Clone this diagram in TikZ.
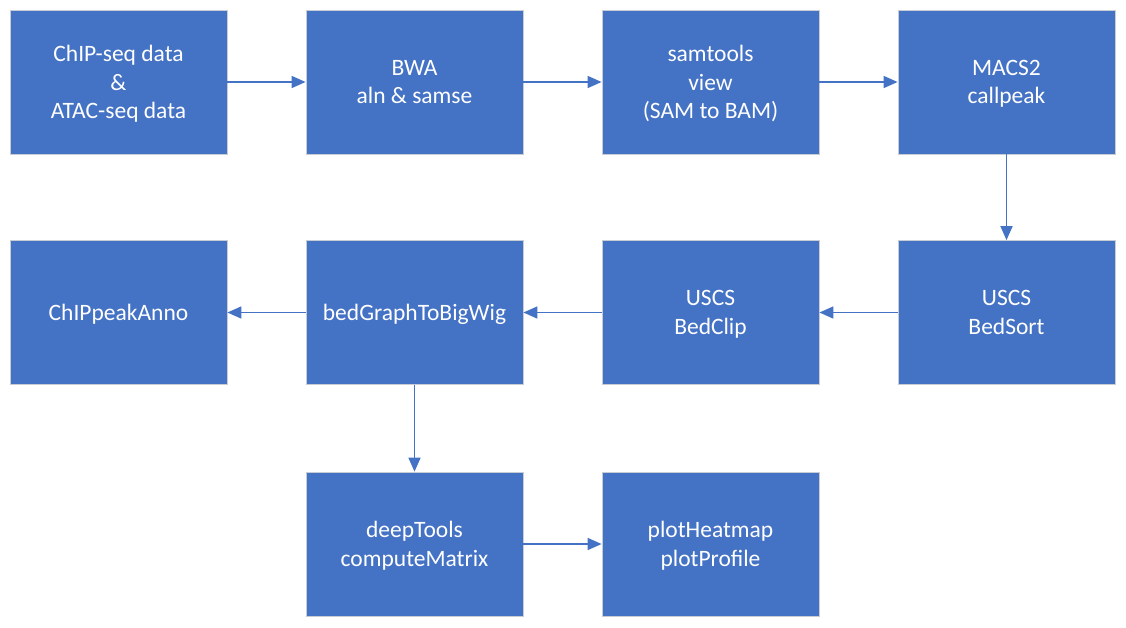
\documentclass[tikz,border=0pt]{standalone}
\usepackage{fontspec}
\setmainfont{Carlito}
\usetikzlibrary{arrows.meta}
\definecolor{boxblue}{HTML}{4472C4}
\definecolor{boxedge}{HTML}{C8CCD4}
\tikzset{
  stepbox/.style={draw=boxedge, line width=0.8pt, fill=boxblue, minimum width=217pt, minimum height=144pt,
    inner sep=0pt, text=white, align=center, font=\fontsize{23.5pt}{28.5pt}\selectfont,
    text depth=0pt, execute at begin node={\vspace*{5pt}}},
  conn/.style={draw=boxblue, line width=1.6pt, -{Triangle[length=14pt,width=12pt]}}
}
\begin{document}
\begin{tikzpicture}[x=1pt,y=-1pt]
\useasboundingbox (0,0) rectangle (1126,627);
\node[stepbox] (a) at (118.5,82) {ChIP-seq data\\\&\\ATAC-seq data};
\node[stepbox] (b) at (414.5,82) {BWA\\aln \& samse};
\node[stepbox] (c) at (710.5,82) {samtools\\view\\(SAM to BAM)};
\node[stepbox] (d) at (1006.5,82) {MACS2\\callpeak};
\node[stepbox] (e) at (1006.5,312.5) {USCS\\BedSort};
\node[stepbox] (f) at (710.5,312.5) {USCS\\BedClip};
\node[stepbox] (g) at (414.5,312.5) {bedGraphToBigWig};
\node[stepbox] (h) at (118.5,312.5) {ChIPpeakAnno};
\node[stepbox] (i) at (414.5,544) {deepTools\\computeMatrix};
\node[stepbox] (j) at (710.5,544) {plotHeatmap\\plotProfile};
\draw[conn] (a) -- (b);
\draw[conn] (b) -- (c);
\draw[conn] (c) -- (d);
\draw[conn] (d) -- (e);
\draw[conn] (e) -- (f);
\draw[conn] (f) -- (g);
\draw[conn] (g) -- (h);
\draw[conn] (g) -- (i);
\draw[conn] (i) -- (j);
\end{tikzpicture}
\end{document}
